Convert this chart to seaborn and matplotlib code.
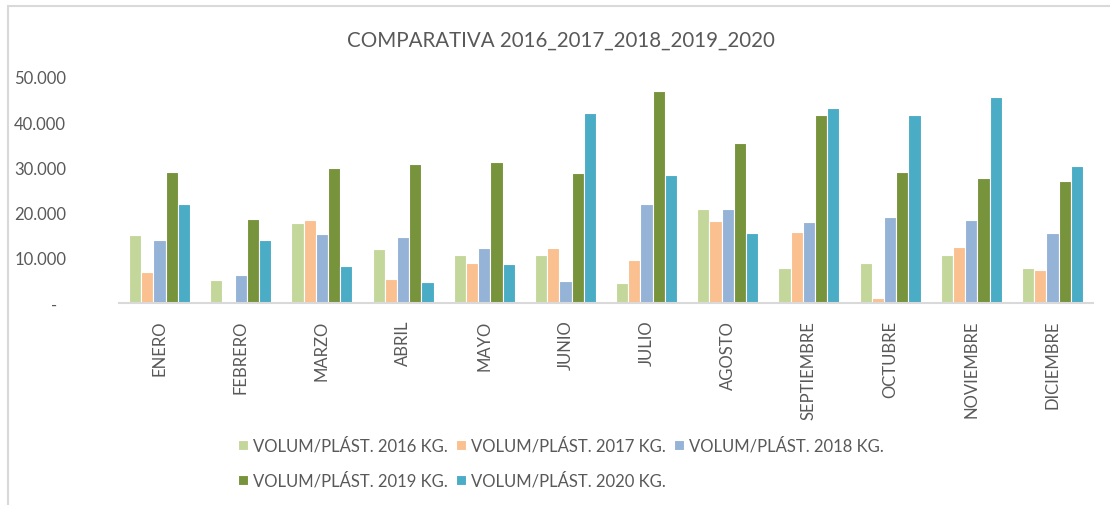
import matplotlib
matplotlib.use("Agg")
import matplotlib.pyplot as plt
import matplotlib.transforms as mtransforms
import seaborn as sns
import pandas as pd
from matplotlib.patches import Rectangle
from matplotlib.ticker import FixedLocator

months = ["ENERO", "FEBRERO", "MARZO", "ABRIL", "MAYO", "JUNIO", "JULIO",
          "AGOSTO", "SEPTIEMBRE", "OCTUBRE", "NOVIEMBRE", "DICIEMBRE"]
series_names = ["VOLUM/PLÁST. 2016 KG.", "VOLUM/PLÁST. 2017 KG.", "VOLUM/PLÁST. 2018 KG.",
                "VOLUM/PLÁST. 2019 KG.", "VOLUM/PLÁST. 2020 KG."]
v2016 = [15000, 5100, 17800, 11850, 10700, 10700, 4400, 20900, 7800, 8900, 10700, 7800]
v2017 = [6800, 0, 18400, 5300, 8900, 12100, 9550, 18100, 15700, 1200, 12300, 7300]
v2018 = [13850, 6100, 15300, 14600, 12100, 4800, 22000, 20700, 17900, 19000, 18400, 15500]
v2019 = [29000, 18600, 29900, 30700, 31100, 28800, 47000, 35400, 41500, 29000, 27700, 27000]
v2020 = [22000, 13850, 8200, 4600, 8700, 42000, 28400, 15500, 43100, 41500, 45600, 30400]
colors = ["#C4D79B", "#FAC090", "#95B3D7", "#77933C", "#4BACC6"]
yticks = [0, 10000, 20000, 30000, 40000, 50000]
ytick_labels = ["-", "10.000", "20.000", "30.000", "40.000", "50.000"]
title = "COMPARATIVA 2016_2017_2018_2019_2020"

rows = []
for name, vals in zip(series_names, [v2016, v2017, v2018, v2019, v2020]):
    for m, v in zip(months, vals):
        rows.append({"mes": m, "serie": name, "valor": v})
df = pd.DataFrame(rows)

sns.set_theme(style="white")
plt.rcParams["font.family"] = ["Lato", "DejaVu Sans"]
txt = "#595959"

fig = plt.figure(figsize=(11.10, 5.06), dpi=100)
ax = fig.add_axes([119/1110, (506-304)/506, (1093-119)/1110, (304-78)/506])
sns.barplot(data=df, x="mes", y="valor", hue="serie", order=months,
            hue_order=series_names, palette=colors, saturation=1,
            width=0.75, edgecolor="white", linewidth=0.8, errorbar=None, ax=ax)

ax.set_ylim(0, 50000)
ax.set_xlim(-0.5, len(months) - 0.5)
ax.yaxis.set_major_locator(FixedLocator(yticks))
ax.set_yticklabels(ytick_labels)
ax.set_xlabel("")
ax.set_ylabel("")
for s in ["top", "right", "left"]:
    ax.spines[s].set_visible(False)
ax.spines["bottom"].set_color("#D9D9D9")
ax.spines["bottom"].set_linewidth(1.5)
ax.tick_params(axis="y", length=0, pad=38, labelsize=12, labelcolor=txt)
ax.tick_params(axis="x", length=0, pad=12, labelsize=12, labelcolor=txt)
for lab in ax.get_xticklabels():
    lab.set_rotation(90)
    lab.set_va("top")
    lab.set_ha("center")
zero_lab = ax.get_yticklabels()[0]
zero_lab.set_transform(zero_lab.get_transform() +
                       mtransforms.ScaledTranslation(-9/100, 0, fig.dpi_scale_trans))

fig.text(0.505, 1 - 41/506, title, ha="center", va="center", fontsize=14.8, color=txt)

handles, labels = ax.get_legend_handles_labels()
ax.legend_.remove()
order = [0, 3, 1, 4, 2]
fig.legend([handles[i] for i in order], [labels[i] for i in order],
           loc="center", bbox_to_anchor=(0.505, 1 - 464/506), ncol=3,
           frameon=False, fontsize=12, labelcolor=txt, handlelength=0.6, handleheight=0.6,
           handletextpad=0.3, columnspacing=0.5, labelspacing=1.1, borderaxespad=0)

fig.patches.append(Rectangle((8/1110, -0.1), 1.2, 1 - 7/506 + 0.1, transform=fig.transFigure,
                             fill=False, edgecolor="#D9D9D9", linewidth=1.5))

fig.savefig("out.png", dpi=100)
